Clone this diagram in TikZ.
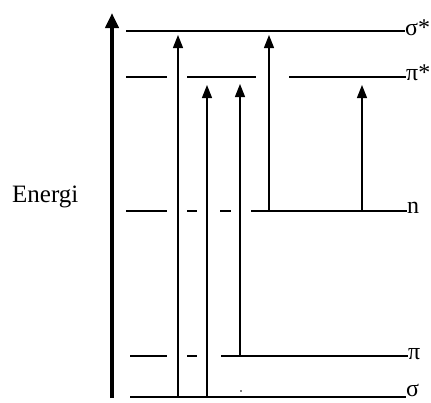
\documentclass[tikz,border=0pt]{standalone}
\usepackage{fontspec}
\setmainfont{Liberation Serif}
\usetikzlibrary{arrows.meta}
\begin{document}
\begin{tikzpicture}[x=1pt,y=-1pt,
  level/.style={line width=1.3pt},
  trans/.style={line width=1.3pt,-{Triangle[width=10pt,length=13pt]}},
  axis/.style={line width=4.5pt,-{Triangle[width=13pt,length=15pt]}},
  lbl/.style={anchor=base west,inner sep=0pt,font=\fontsize{24}{28}\selectfont},
  title/.style={anchor=base west,inner sep=0pt,font=\fontsize{25}{29}\selectfont}]
\useasboundingbox (0,0) rectangle (431,402);

% energy axis
\coordinate (ax0) at (112,398);
\coordinate (ax1) at (112,13);
\draw[axis] (ax0) -- (ax1);
\node[title] (energi) at (12,202) {Energi};

% level labels
\node[lbl] (lss) at (405,35) {σ*};
\node[lbl] (lps) at (406,80) {π*};
\node[lbl] (ln)  at (407,213) {n};
\node[lbl] (lp)  at (408,359) {π};
\node[lbl] (ls)  at (406,396) {σ};

% sigma* level
\coordinate (ss0) at (126,31);
\draw[level] (ss0) -- (ss0 -| lss.west);
% pi* level
\coordinate (ps0) at (126,77); \coordinate (ps1) at (167,77);
\coordinate (ps2) at (187,77); \coordinate (ps3) at (256,77);
\coordinate (ps4) at (289,77);
\draw[level] (ps0) -- (ps1);
\draw[level] (ps2) -- (ps3);
\draw[level] (ps4) -- (ps4 -| lps.west);
% n level
\coordinate (n0) at (126,211); \coordinate (n1) at (167,211);
\coordinate (n2) at (187,211); \coordinate (n3) at (197,211);
\coordinate (n4) at (220,211); \coordinate (n5) at (231,211);
\coordinate (n6) at (251,211);
\draw[level] (n0) -- (n1);
\draw[level] (n2) -- (n3);
\draw[level] (n4) -- (n5);
\draw[level] (n6) -- (n6 -| ln.west);
% pi level
\coordinate (p0) at (130,356); \coordinate (p1) at (167,356);
\coordinate (p2) at (187,356); \coordinate (p3) at (197,356);
\coordinate (p4) at (221,356);
\draw[level] (p0) -- (p1);
\draw[level] (p2) -- (p3);
\draw[level] (p4) -- (p4 -| lp.west);
% sigma level
\coordinate (s0) at (130,397);
\draw[level] (s0) -- (s0 -| ls.west);

% transitions
\coordinate (a1b) at (178,397); \coordinate (a1t) at (178,35);
\coordinate (a2b) at (207,397); \coordinate (a2t) at (207,85);
\coordinate (a3b) at (240,356); \coordinate (a3t) at (240,84);
\coordinate (a4b) at (269,211); \coordinate (a4t) at (269,35);
\coordinate (a5b) at (362,211); \coordinate (a5t) at (362,85);
\draw[trans] (a1b) -- (a1t);
\draw[trans] (a2b) -- (a2t);
\draw[trans] (a3b) -- (a3t);
\draw[trans] (a4b) -- (a4t);
\draw[trans] (a5b) -- (a5t);

% tiny dot
\coordinate (dot) at (241,391);
\fill (dot) circle (0.8);
\end{tikzpicture}
\end{document}
